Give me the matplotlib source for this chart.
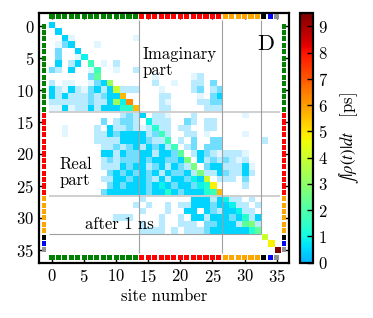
import numpy as np
import matplotlib
matplotlib.use('Agg')
import matplotlib.pyplot as pl
from matplotlib.colors import LinearSegmentedColormap, Normalize
from matplotlib.cm import ScalarMappable

pl.rcParams['font.family'] = 'serif'
pl.rcParams['font.serif'] = ['cmr10']
pl.rcParams['mathtext.fontset'] = 'cm'
pl.rcParams['axes.formatter.use_mathtext'] = True

# cell code -> integrated |rho(t)| in ps
code_values = {'.': 0.0, 'a': 0.06, 'b': 0.14, 'c': 0.28, 'd': 0.5,
               'e': 0.9, 'f': 1.3, 'g': 1.7, 'h': 2.2, 'i': 2.7,
               'j': 3.2, 'k': 4.0, 'l': 4.8, 'm': 5.6, 'n': 6.3, 'z': 9.5}

# rows = site i, columns = site j (lower: real part, upper: imaginary part)
rows = [
    "d.... ..... ..... ..... ..... ..... ..... .",
    ".d... ..... ..... ..... ..... ..... ..... .",
    "..da. ..... ...a. ..... ..... ..... ..... .",
    ".acd. ..a.. ..... ..... ..... ..... ..... .",
    ".c..d ..... ..... ..... ..... ..... ..... .",
    ".c..a e.... ..... ..... ..... ..... ..... .",
    ".d.bd .g.a. b.... ..... ..... ..... ..... .",
    "cb.d. .ag.. a..b. ..... ..... ..... ..... .",
    "..... .ch.. ..... .a... ..ab. ..... ..... .",
    "b.aa. .acdj ..... .b..a ..bb. c.... ..... .",
    "dbadb acdbd kbbb. ..a.. ..bc. bc... ..... .",
    "dbdbb bcbcd dm... ..bb. ...a. cd... ..... .",
    "bbbbb bcbbd jen.. ..ba. ...bb cc... ..... .",
    "aadab bdbdd dffm. ..bb. ....b bb... ..... .",
    "..... ..... .bcbd .bba. ..b.. ..... a.... .",
    "..... ...c. bccb. ebbb. .cb.b b.... ..... .",
    "..a.. ..b.d bbcba bfbb. bb..b b.... ..... .",
    "..a.. ..bbd cdddd bcgb. .bb.a ..... a.... .",
    "..... ..bbb bdddd cbbg. b.c.. cc... ...b. .",
    "..... ...bb cbcdb dcdbg .bc.c cc... ..... .",
    "..... ...dd bdccd dbddc h.bdc babbb a.... .",
    "..... ...bc bcccd cddcc di.db cbcba b.... .",
    "..... ...bb bdcdd bcdbd cbi.c ddbbb da... .",
    "..... ....c dcdcd cdbdc cdbib bdcbb db... .",
    "..... ...bb ddcdd cbdbd dcedk .bbb. c.... .",
    "..... ....c dcddd cdedc ddcef l.... b.... .",
    "..... ...cd ddddd cddfd cdddf gm... ..... .",
    "..... ..... ....b ..... ..ddd bdebb .b... .",
    "..... ..... ...b. b..b. bbddd cddeb b.b.. .",
    "..... ..... ....b ...b. .dd.d cbdde bb... .",
    "..... ..... bbb.. ..b.. b.ddb dddcd fbd.. .",
    "..... ..... ....b ..b.. bbb.c cdddb hib.. .",
    "..... ..... ....b bbb.b .bbbc ddddd dfh.. .",
    "..... ..... ..... ..... ..... ..... ...k. .",
    "..... ..... ..... ..... ..... ..... ....l .",
    "..... ..... ..... ..... ..... ..... ..... z",
]

group_sizes = [14, 13, 6, 1, 1, 1]
group_colors = ['#008000', '#ff0000', '#ffa500', 'black', '#0000ff', '#909090']

M = np.array([[code_values[ch] for ch in r.replace(' ', '')] for r in rows])
nsite = M.shape[0]
sites = np.arange(nsite)
site_colors = np.repeat(group_colors, group_sizes)
bounds = np.cumsum(group_sizes)[:-3] - 0.5

vmax = 9.5
cmap = LinearSegmentedColormap.from_list('jet_part', pl.cm.jet(np.linspace(0.3, 1.0, 256)))
norm = Normalize(0, vmax)

f = pl.figure(figsize=(3.73, 3.18), dpi=100)
ax = f.add_axes([0.105, 0.174, 0.671, 0.784])
cax = f.add_axes([0.804, 0.174, 0.036, 0.784])

alpha = np.clip(M / 0.5, 0, 1)
ax.imshow(M, cmap=cmap, norm=norm, alpha=alpha, interpolation='nearest',
          extent=(-0.5, nsite - 0.5, nsite - 0.5, -0.5), aspect='auto', zorder=1)

# block dividers
ax.hlines(bounds[:2], -0.5, nsite - 0.5, color='#cfcfcf', lw=1.4, zorder=2)
ax.hlines(bounds[2], -0.5, bounds[2], color='#a0a0a0', lw=0.8, zorder=2)
ax.vlines(bounds[:2], -0.9, nsite - 0.5, color='#a0a0a0', lw=0.8, zorder=2)
ax.vlines(bounds[2], -0.9, bounds[2], color='#a0a0a0', lw=0.8, zorder=2)

# site colour strips
th = 0.68
ax.bar(sites, th, bottom=-1.5 - th / 2, width=0.8, color=site_colors, zorder=3)
ax.bar(sites, th, bottom=36.2 - th / 2, width=0.8, color=site_colors, zorder=3)
ax.barh(sites, th, left=-1.2 - th / 2, height=0.8, color=site_colors, zorder=3)
ax.barh(sites, th, left=36.2 - th / 2, height=0.8, color=site_colors, zorder=3)

ax.set_xlim(-2, 37)
ax.set_ylim(37, -2)
ax.set_xticks(np.arange(0, 36, 5))
ax.set_yticks(np.arange(0, 36, 5))
ax.tick_params(direction='in', top=True, right=True, length=4, width=1,
               labelsize=12, color='black')
for s in ax.spines.values():
    s.set_linewidth(1.6)
ax.set_xlabel('site number', fontsize=12, labelpad=3)

ax.text(14.1, 3.2, 'Imaginary\npart', ha='left', va='top', fontsize=12, linespacing=1.05, zorder=4)
ax.text(1.1, 20.4, 'Real\npart', ha='left', va='top', fontsize=12, linespacing=1.05, zorder=4)
ax.text(5.2, 31.8, 'after 1 ns', ha='left', va='baseline', fontsize=12, zorder=4)
ax.text(33.3, 2.8, 'D', ha='center', va='center', fontsize=16, zorder=4)

cb = f.colorbar(ScalarMappable(norm=norm, cmap=cmap), cax=cax)
cb.set_ticks(np.arange(0, 10))
cb.outline.set_linewidth(1.6)
cax.tick_params(direction='in', length=4, width=1, labelsize=12)
cb.set_label(r'$\int|\rho(t)|dt\quad\;$[ps]', fontsize=12, labelpad=7,
             math_fontfamily='stix')

f.savefig('out.png', dpi=100)
